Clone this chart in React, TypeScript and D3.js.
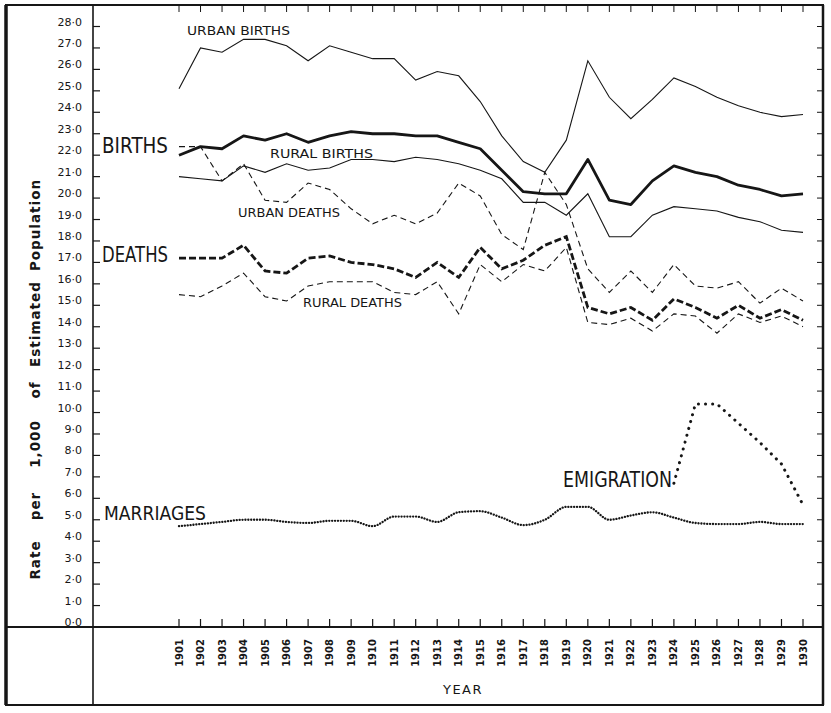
import React from "react";
import * as d3 from "d3";

const years = [
  1901, 1902, 1903, 1904, 1905, 1906, 1907, 1908, 1909, 1910,
  1911, 1912, 1913, 1914, 1915, 1916, 1917, 1918, 1919, 1920,
  1921, 1922, 1923, 1924, 1925, 1926, 1927, 1928, 1929, 1930,
];

const urbanBirths = [
  25.1, 27.0, 26.8, 27.4, 27.4, 27.1, 26.4, 27.1, 26.8, 26.5,
  26.5, 25.5, 25.9, 25.7, 24.5, 22.9, 21.7, 21.2, 22.7, 26.4,
  24.7, 23.7, 24.6, 25.6, 25.2, 24.7, 24.3, 24.0, 23.8, 23.9,
];
const births = [
  22.0, 22.4, 22.3, 22.9, 22.7, 23.0, 22.6, 22.9, 23.1, 23.0,
  23.0, 22.9, 22.9, 22.6, 22.3, 21.3, 20.3, 20.2, 20.2, 21.8,
  19.9, 19.7, 20.8, 21.5, 21.2, 21.0, 20.6, 20.4, 20.1, 20.2,
];
const ruralBirths = [
  21.0, 20.9, 20.8, 21.5, 21.2, 21.6, 21.3, 21.4, 21.8, 21.8,
  21.7, 21.9, 21.8, 21.6, 21.3, 20.9, 19.8, 19.8, 19.2, 20.2,
  18.2, 18.2, 19.2, 19.6, 19.5, 19.4, 19.1, 18.9, 18.5, 18.4,
];
const urbanDeaths = [
  22.4, 22.4, 20.8, 21.6, 19.9, 19.8, 20.7, 20.4, 19.5, 18.8,
  19.2, 18.8, 19.3, 20.7, 20.1, 18.3, 17.6, 21.2, 19.7, 16.7,
  15.6, 16.6, 15.6, 16.9, 15.9, 15.8, 16.1, 15.1, 15.8, 15.2,
];
const deaths = [
  17.2, 17.2, 17.2, 17.8, 16.6, 16.5, 17.2, 17.3, 17.0, 16.9,
  16.7, 16.3, 17.0, 16.3, 17.7, 16.7, 17.1, 17.8, 18.2, 14.9,
  14.6, 14.9, 14.3, 15.3, 14.9, 14.4, 15.0, 14.4, 14.8, 14.3,
];
const ruralDeaths = [
  15.5, 15.4, 15.9, 16.5, 15.4, 15.2, 15.9, 16.1, 16.1, 16.1,
  15.6, 15.5, 16.1, 14.6, 16.9, 16.1, 16.9, 16.6, 17.7, 14.2,
  14.1, 14.4, 13.8, 14.6, 14.5, 13.7, 14.6, 14.2, 14.5, 14.0,
];
const marriages = [
  4.7, 4.8, 4.9, 5.0, 5.0, 4.9, 4.85, 4.95, 4.95, 4.7,
  5.15, 5.15, 4.9, 5.35, 5.4, 5.1, 4.75, 5.0, 5.6, 5.6,
  5.0, 5.2, 5.35, 5.1, 4.85, 4.8, 4.8, 4.9, 4.8, 4.8,
];
const emigrationYears = [1924, 1925, 1926, 1927, 1928, 1929, 1930];
const emigration = [6.7, 10.4, 10.4, 9.5, 8.6, 7.6, 5.7];

const yTicks = [
  0, 1, 2, 3, 4, 5, 6, 7, 8, 9, 10, 11, 12, 13, 14,
  15, 16, 17, 18, 19, 20, 21, 22, 23, 24, 25, 26, 27, 28,
];

// y-axis title words, bottom to top, with their centre positions
const titleWords = ["Rate", "per", "1,000", "of", "Estimated", "Population"];
const titleCentres = [560, 506, 444, 390, 324, 225];

const W = 831;
const H = 713;
const ink = "#161616";
const sans = "'DejaVu Sans', 'Liberation Sans', sans-serif";

const x = d3.scaleLinear().domain([1901, 1930]).range([179, 803]);
const y = d3.scaleLinear().domain([0, 28]).range([627, 26.5]);

const fmt = (v: number) => v.toFixed(1).replace(".", "\u00b7");

function pathOf(xs: number[], vs: number[], curve: any = d3.curveLinear) {
  const pts: [number, number][] = xs.map((yr, i) => [yr, vs[i]]);
  return d3
    .line<[number, number]>()
    .x((d) => x(d[0]))
    .y((d) => y(d[1]))
    .curve(curve)(pts)!;
}

const App: React.FC = () => {
  return (
    <div style={{ position: "absolute", left: 0, top: 0 }}>
      <svg width={W} height={H} style={{ display: "block", background: "#fff" }}>
        {/* frame */}
        <rect x={6} y={5} width={817} height={700} fill="none" stroke={ink} strokeWidth={2} />
        <line x1={6} y1={5} x2={6} y2={705} stroke={ink} strokeWidth={3.5} />
        <line x1={823} y1={5} x2={823} y2={705} stroke={ink} strokeWidth={2.5} />
        <line x1={93} y1={5} x2={93} y2={705} stroke={ink} strokeWidth={1.6} />
        <line x1={6} y1={y(0)} x2={823} y2={y(0)} stroke={ink} strokeWidth={2} />

        {/* y axis ticks and labels */}
        {yTicks.map((t) => (
          <g key={"yt" + t}>
            <line x1={93} x2={100} y1={y(t)} y2={y(t)} stroke={ink} strokeWidth={1.2} />
            <line x1={817} x2={823} y1={y(t)} y2={y(t)} stroke={ink} strokeWidth={1} />
            <text
              x={82}
              y={y(t) - 1}
              textAnchor="end"
              fontFamily={sans}
              fontSize={11}
              fill={ink}
            >
              {fmt(t)}
            </text>
          </g>
        ))}

        {/* x axis ticks, top ticks and labels */}
        {years.map((yr) => (
          <g key={"xt" + yr}>
            <line x1={x(yr)} x2={x(yr)} y1={619} y2={627} stroke={ink} strokeWidth={1.2} />
            <line x1={x(yr)} x2={x(yr)} y1={5} y2={12} stroke={ink} strokeWidth={1} />
            <text
              transform={`translate(${x(yr) + 3.5},639) rotate(-90)`}
              textAnchor="end"
              fontFamily={sans}
              fontSize={10}
              fontWeight={600}
              fill={ink}
            >
              {yr}
            </text>
          </g>
        ))}

        <text x={463} y={694} textAnchor="middle" fontFamily={sans} fontSize={13} letterSpacing={1.5} fill={ink}>
          YEAR
        </text>
        {titleWords.map((w, i) => (
          <text
            key={w}
            transform={`translate(40,${titleCentres[i]}) rotate(-90)`}
            textAnchor="middle"
            fontFamily={sans}
            fontSize={13.5}
            fontWeight={600}
            letterSpacing={1}
            fill={ink}
          >
            {w}
          </text>
        ))}

        {/* series */}
        <path d={pathOf(years, urbanBirths)} fill="none" stroke={ink} strokeWidth={1.1} />
        <path d={pathOf(years, ruralBirths)} fill="none" stroke={ink} strokeWidth={1.1} />
        <path d={pathOf(years, births)} fill="none" stroke={ink} strokeWidth={2.8} strokeLinejoin="round" />
        <path d={pathOf(years, urbanDeaths)} fill="none" stroke={ink} strokeWidth={1.1} strokeDasharray="6,4" />
        <path d={pathOf(years, ruralDeaths)} fill="none" stroke={ink} strokeWidth={1.1} strokeDasharray="6,4" />
        <path d={pathOf(years, deaths)} fill="none" stroke={ink} strokeWidth={2.8} strokeDasharray="7,3" />
        <path
          d={pathOf(years, marriages, d3.curveMonotoneX)}
          fill="none"
          stroke={ink}
          strokeWidth={2.3}
          strokeDasharray="0.1,2.8"
          strokeLinecap="round"
        />
        <path
          d={pathOf(emigrationYears, emigration)}
          fill="none"
          stroke={ink}
          strokeWidth={3}
          strokeDasharray="0.1,7"
          strokeLinecap="round"
        />

        {/* labels */}
        <text x={187} y={35} fontFamily={sans} fontSize={12} textLength={103} lengthAdjust="spacingAndGlyphs" fill={ink}>
          URBAN BIRTHS
        </text>
        <text x={102} y={153} fontFamily={sans} fontSize={21} textLength={66} lengthAdjust="spacingAndGlyphs" fill={ink}>
          BIRTHS
        </text>
        <text x={270} y={158} fontFamily={sans} fontSize={12} textLength={103} lengthAdjust="spacingAndGlyphs" fill={ink}>
          RURAL BIRTHS
        </text>
        <text x={238} y={217} fontFamily={sans} fontSize={12} textLength={102} lengthAdjust="spacingAndGlyphs" fill={ink}>
          URBAN DEATHS
        </text>
        <text x={102} y={262} fontFamily={sans} fontSize={21} textLength={66} lengthAdjust="spacingAndGlyphs" fill={ink}>
          DEATHS
        </text>
        <text x={303} y={307} fontFamily={sans} fontSize={12} textLength={99} lengthAdjust="spacingAndGlyphs" fill={ink}>
          RURAL DEATHS
        </text>
        <text x={104} y={520} fontFamily={sans} fontSize={20} textLength={102} lengthAdjust="spacingAndGlyphs" fill={ink}>
          MARRIAGES
        </text>
        <text x={563} y={487} fontFamily={sans} fontSize={22} textLength={109} lengthAdjust="spacingAndGlyphs" fill={ink}>
          EMIGRATION
        </text>
      </svg>
    </div>
  );
};

export default App;
